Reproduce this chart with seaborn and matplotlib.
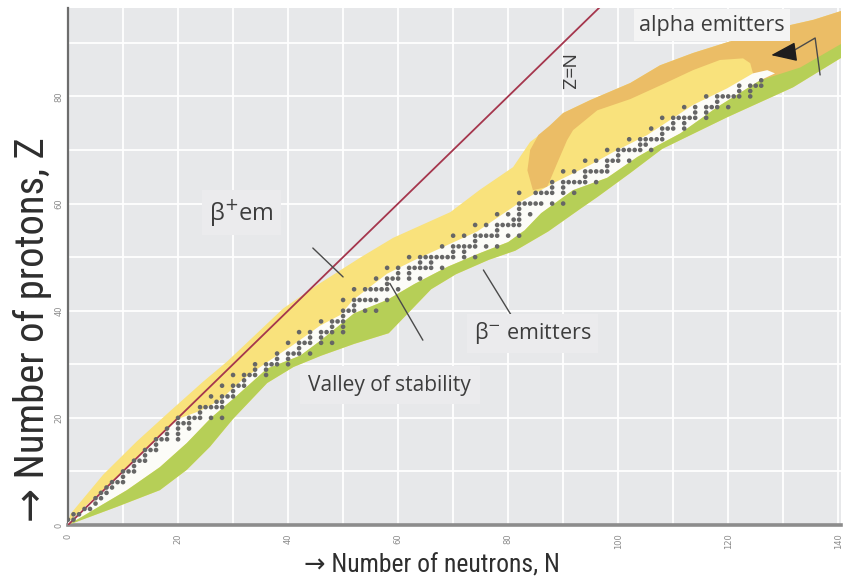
import matplotlib
matplotlib.use("Agg")
import matplotlib.pyplot as plt
import pandas as pd
import seaborn as sns
from matplotlib import font_manager as fm
from matplotlib.ticker import MultipleLocator

# ---------------------------------------------------------------- data
# Stable nuclides: for each proton number Z, the stable neutron numbers N
stable_z = list(range(1, 84))
stable_n = [
    [0, 1], [1, 2], [3, 4], [5], [5, 6], [6, 7], [7, 8], [8, 9, 10], [10],
    [10, 11, 12], [12], [12, 13, 14], [14], [14, 15, 16], [16],
    [16, 17, 18, 20], [18, 20], [18, 20, 22], [20, 21, 22],
    [20, 22, 23, 24, 26, 28], [24], [24, 25, 26, 27, 28], [27, 28],
    [26, 28, 29, 30], [30], [28, 30, 31, 32], [32], [30, 32, 33, 34, 36],
    [34, 36], [34, 36, 37, 38, 40], [38, 40], [38, 40, 41, 42, 44], [42],
    [40, 42, 43, 44, 46, 48], [44, 46], [42, 44, 46, 47, 48, 50], [48, 50],
    [46, 48, 49, 50], [50], [50, 51, 52, 54, 56], [52],
    [50, 52, 53, 54, 55, 56, 58], [], [52, 54, 55, 56, 57, 58, 60], [58],
    [56, 58, 59, 60, 62, 64], [60, 62], [58, 60, 62, 63, 64, 65, 66, 68],
    [64, 66], [62, 64, 65, 66, 67, 68, 69, 70, 72, 74], [70, 72],
    [68, 70, 71, 72, 73, 74, 76, 78], [74], [70, 72, 74, 75, 76, 77, 78, 80, 82],
    [78], [74, 76, 78, 79, 80, 81, 82], [81, 82], [78, 80, 82, 84], [82],
    [82, 83, 84, 85, 86, 88, 90], [], [82, 85, 86, 87, 88, 90, 92], [88, 90],
    [88, 90, 91, 92, 93, 94, 96], [94], [90, 92, 94, 95, 96, 97, 98], [98],
    [94, 96, 98, 99, 100, 102], [100], [98, 100, 101, 102, 103, 104, 106],
    [104, 105], [102, 104, 105, 106, 107, 108], [108], [106, 108, 109, 110, 112],
    [110, 112], [108, 110, 111, 112, 113, 114, 116], [114, 116],
    [112, 114, 116, 117, 118, 120], [118], [116, 118, 119, 120, 121, 122, 124],
    [122, 124], [122, 124, 125, 126], [126],
]

# Proton-rich (beta+) band, outer edge
bplus_upper_n = [0, 0.4, 6.4, 12.5, 18.5, 24.5, 28.9, 39.1, 45.3, 53.1, 59.1,
                 69.5, 74.9, 80.9, 84.0, 87.1, 90.0, 94.9, 102.2, 107.6,
                 113.6, 119.8, 129.5, 135.5, 140.7]
bplus_upper_z = [0, 2.0, 9.4, 15.6, 21.2, 26.7, 30.5, 40.4, 44.8, 49.9, 53.6,
                 58.4, 62.6, 66.8, 71.5, 73.9, 76.9, 79.3, 82.5, 85.8,
                 88.1, 90.1, 92.9, 94.3, 96.0]

# Top of the valley of stability (inner edge of the beta+ band)
valley_top_n = [0, 10, 20, 24, 27.6, 31.8, 36.2, 40.9, 45.8, 49.5, 51.8, 58,
                62.7, 68.2, 74.4, 79.1, 82.7, 88.2, 94.9, 99.1, 105.3, 113.6,
                119.8, 124.5, 127.1, 128.5]
valley_top_z = [0.5, 10.0, 19.8, 21.3, 23.3, 27.2, 30.4, 33.6, 37.2, 39.2,
                42.0, 46.9, 49.3, 51.9, 54.8, 58.1, 60.6, 63.8, 67.2, 69.6,
                72.8, 78.4, 81.5, 84.3, 84.9, 84.3]

# Neutron-rich (beta-) band, inner and outer edge
bminus_upper_n = [0, 10.7, 16.7, 21.6, 26, 30, 36.2, 42.2, 46, 52, 58, 63, 69,
                  75, 80, 83, 86, 91.8, 98, 103.5, 107.1, 111.3, 118, 125.8,
                  133.1, 140.7]
bminus_upper_z = [0, 6.5, 10.8, 15.3, 20, 23.5, 29.2, 31.6, 34.5, 39.5, 42, 45,
                  48.2, 50.8, 52.8, 55, 58.2, 62.5, 64.8, 68.7, 70.8, 73.1, 78,
                  83, 85.4, 89.9]
bminus_lower_n = [0, 8.9, 16.7, 21.6, 25.8, 30, 36.2, 41, 46, 52, 58.3, 63, 66,
                  70.5, 76.5, 81.3, 87.3, 93.1, 96.2, 102.2, 108, 119.8, 131.8,
                  140.7]
bminus_lower_z = [0, 3.4, 6.5, 10.3, 14.6, 19.8, 26.5, 29.5, 31.6, 33.8, 35.8,
                  40.8, 44, 46.8, 49.5, 51.2, 54.8, 59, 61.2, 65.7, 70.2, 76.1,
                  81.7, 87.3]

# Alpha emitters region (outline running round the lighter beta+ pocket)
alpha_n = [84.5, 83.5, 84.0, 85.5, 87.5, 90.0, 94.9, 102.2, 107.6, 113.6,
           119.8, 129.5, 135.5, 140.7, 140.7, 132.0, 127.0, 124.5, 124.5,
           124.0, 122.7, 118.5, 113.6, 108.2, 102.2, 96.2, 91.8, 90.7, 88.9,
           87.1]
alpha_z = [62.5, 66.2, 70.0, 72.8, 74.5, 76.9, 79.3, 82.5, 85.8, 88.1, 90.1,
           92.9, 94.3, 96.0, 88.0, 84.5, 82.5, 82.5, 84.3, 86.2, 87.1, 86.8,
           84.9, 82.3, 79.5, 77.4, 73.7, 71.8, 67.5, 63.1]

x_ticks = [0, 20, 40, 60, 80, 100, 120, 140]
x_tick_labels = ["0", "20", "40", "60", "80", "100", "120", "140"]
y_ticks = [0, 20, 40, 60, 80]
y_tick_labels = ["0", "20", "40", "60", "80"]

# ---------------------------------------------------------------- style
sns.set_theme(style="darkgrid")
plt.rcParams["font.family"] = ["DejaVu Sans"]

YELLOW = "#f9e27c"
GREEN = "#b6cf57"
ORANGE = "#ebbd66"
BG = "#e7e8ea"
TXT = "#3d3d3d"

# a narrow face for the axis titles, when one is installed
_names = {f.name for f in fm.fontManager.ttflist}
_narrow = [n for n in ("Liberation Sans Narrow", "DejaVu Sans Condensed",
                       "Roboto Condensed", "Open Sans Condensed") if n in _names]
title_family = (_narrow[:1] or ["Roboto"]) + ["DejaVu Sans"]

fig = plt.figure(figsize=(8.57, 5.84), dpi=100)
ax = fig.add_axes([68 / 857, 59 / 584, 773 / 857, 517 / 584])
ax.set_facecolor(BG)

# bands
ax.fill(bplus_upper_n + bminus_lower_n[::-1],
        bplus_upper_z + bminus_lower_z[::-1],
        color=YELLOW, lw=0, zorder=1)
ax.fill(alpha_n, alpha_z, color=ORANGE, lw=0, zorder=2)
inner = [(n, z) for n, z in zip(bminus_upper_n, bminus_upper_z) if n <= 128.5]
ax.fill(valley_top_n + [p[0] for p in inner][::-1],
        valley_top_z + [p[1] for p in inner][::-1],
        color="#fcfcf8", lw=0, zorder=3)
ax.fill(bminus_upper_n + bminus_lower_n[::-1],
        bminus_upper_z + bminus_lower_z[::-1],
        color=GREEN, lw=0, zorder=4)

# N = Z line
diag = pd.DataFrame({"N": [0, 100], "Z": [0, 100]})
sns.lineplot(data=diag, x="N", y="Z", ax=ax, color="#a5364d", lw=1.3,
             zorder=5, legend=False)

# stable nuclides
rows = [(n, z) for z, ns in zip(stable_z, stable_n) for n in ns]
stable = pd.DataFrame(rows, columns=["N", "Z"])
sns.scatterplot(data=stable, x="N", y="Z", ax=ax, s=11, color="#666666",
                edgecolor="none", zorder=6, legend=False)

# axes
ax.set_xlim(0, 140.5)
ax.set_ylim(0, 96.5)
ax.xaxis.set_minor_locator(MultipleLocator(10))
ax.yaxis.set_minor_locator(MultipleLocator(10))
ax.grid(which="both", color="white", lw=1.3)
ax.set_axisbelow(True)
ax.set_xticks(x_ticks)
ax.set_xticklabels(x_tick_labels, rotation=90, fontsize=6, color="#8a8a8a")
ax.set_yticks(y_ticks)
ax.set_yticklabels(y_tick_labels, rotation=90, fontsize=6, color="#8a8a8a",
                   va="center")
ax.tick_params(which="both", length=0)
ax.tick_params(axis="x", pad=6)
ax.tick_params(axis="y", pad=3)
ax.set_xlabel("")
ax.set_ylabel("")
for side in ("top", "right"):
    ax.spines[side].set_visible(False)
ax.spines["left"].set_visible(True)
ax.spines["left"].set_color("#6d6d6d")
ax.spines["left"].set_linewidth(1.6)
ax.spines["bottom"].set_visible(True)
ax.spines["bottom"].set_color("#8c8c8c")
ax.spines["bottom"].set_linewidth(2.6)

# labels inside the chart
fam = ["Open Sans", "DejaVu Sans"]
ann = dict(color=TXT, zorder=8, ha="center", va="center", family=fam)
ax.text(31.6, 58.4, "β$^{+}$em", fontsize=17,
        bbox=dict(boxstyle="square,pad=0.3", fc="#ebebed", ec="none"), **ann)
ax.text(84.4, 35.8, "β$^{-}$ emitters", fontsize=15.5,
        bbox=dict(boxstyle="square,pad=0.3", fc="#ebebed", ec="none"), **ann)
ax.text(58.5, 26.1, "Valley of stability", fontsize=15,
        bbox=dict(boxstyle="square,pad=0.4", fc="#ebebed", ec="none"), **ann)
ax.text(117.1, 93.3, "alpha emitters", fontsize=15.5,
        bbox=dict(boxstyle="square,pad=0.25", fc="#f4f4f4", ec="none"), **ann)
ax.text(90.4, 84.5, "N=Z", rotation=-90, fontsize=14, **ann)

# pointer lines
lk = dict(color="#4a4a4a", lw=1.0, zorder=7)
ax.plot([44.5, 50.0], [51.7, 46.3], **lk)
ax.plot([58.5, 64.5], [45.1, 34.5], **lk)
ax.plot([75.5, 80.9], [47.6, 38.6], **lk)
ax.plot([136.7, 135.8, 131.3], [84.0, 90.9, 88.2], **lk)
ax.annotate("", xy=(127.8, 87.7), xytext=(131.3, 88.2), zorder=7,
            arrowprops=dict(arrowstyle="-|>,head_length=0.8,head_width=0.3",
                            color="#1e1e1e", lw=1.0, mutation_scale=20,
                            shrinkA=0, shrinkB=0))

# axis titles, sized to span their lengths along the axes
lab = dict(color="#2e2e2e", family=title_family, ha="center", va="center")
xt = fig.text(432 / 857, 1 - 566 / 584, "→ Number of neutrons, N",
              fontsize=20, **lab)
yt = fig.text(32 / 857, 1 - 330 / 584, "→ Number of protons, Z",
              fontsize=28, rotation=90, **lab)
renderer = fig.canvas.get_renderer()
for t, span, horiz in ((xt, 255, True), (yt, 385, False)):
    bb = t.get_window_extent(renderer)
    length = bb.width if horiz else bb.height
    t.set_fontsize(t.get_fontsize() * span / length)

fig.savefig("out.png", dpi=100, facecolor="white")
